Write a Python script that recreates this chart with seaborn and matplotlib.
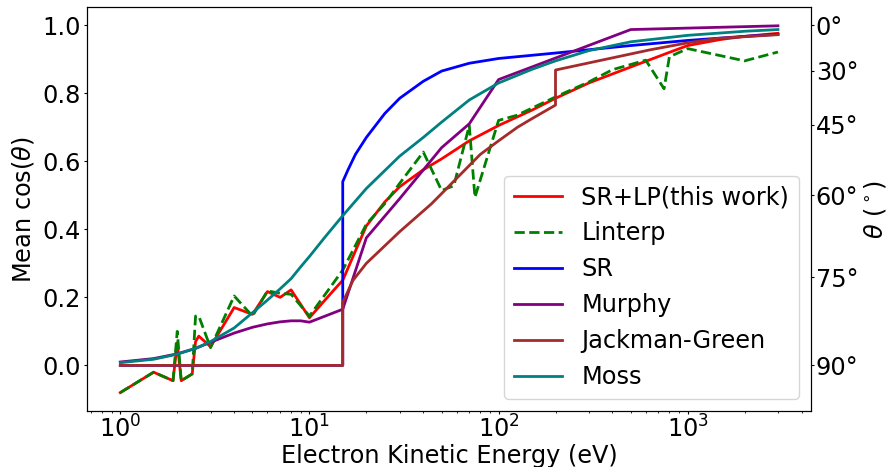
import matplotlib
matplotlib.use("Agg")
import matplotlib.pyplot as plt
import numpy as np
import seaborn as sns

# ── data ────────────────────────────────────────────────────
energy_srlp = [1, 1.5, 1.9, 2.0, 2.1, 2.4, 2.5, 2.6, 3, 4, 5, 6, 7, 8, 10, 12, 14, 15,
               17, 20, 25, 30, 40, 50, 70, 100, 150, 200, 300, 500, 800, 1000, 1500,
               2000, 3000]
cos_srlp = [-0.08, -0.02, -0.045, 0.067, -0.045, -0.025, 0.07, 0.086, 0.055, 0.17, 0.15,
            0.217, 0.2, 0.222, 0.14, 0.19, 0.232, 0.25, 0.32, 0.41, 0.48, 0.525, 0.575,
            0.607, 0.66, 0.705, 0.75, 0.785, 0.83, 0.877, 0.92, 0.94, 0.958, 0.967, 0.976]

energy_linterp = [1, 1.5, 1.9, 2.0, 2.1, 2.4, 2.5, 2.6, 3, 4, 5, 6, 7, 8, 10, 15, 20, 25,
                  30, 40, 50, 58, 70, 75, 100, 125, 200, 300, 400, 600, 750, 800, 1000,
                  2000, 3000]
cos_linterp = [-0.08, -0.02, -0.045, 0.10, -0.045, -0.025, 0.145, 0.145, 0.052, 0.204,
               0.145, 0.219, 0.212, 0.209, 0.145, 0.28, 0.415, 0.475, 0.535, 0.627, 0.514,
               0.528, 0.705, 0.494, 0.72, 0.735, 0.789, 0.833, 0.869, 0.897, 0.813, 0.907,
               0.931, 0.895, 0.921]

energy_sr = [1, 15, 15, 16, 17.5, 20, 25, 30, 40, 50, 70, 100, 200, 500, 1000, 2000, 3000]
cos_sr = [0, 0, 0.54, 0.575, 0.62, 0.67, 0.74, 0.785, 0.835, 0.865, 0.888, 0.902, 0.918,
          0.94, 0.955, 0.967, 0.973]

energy_murphy = [1, 1.5, 2, 2.5, 3, 4, 5, 6, 7, 8, 9, 10, 15, 20, 30, 50, 70, 100, 500, 3000]
cos_murphy = [0.01, 0.02, 0.034, 0.05, 0.068, 0.095, 0.112, 0.122, 0.128, 0.131, 0.131,
              0.127, 0.165, 0.375, 0.49, 0.64, 0.71, 0.84, 0.987, 0.998]

energy_jg = [1, 15, 15, 17, 20, 30, 44, 50, 80, 100, 126, 150, 200, 200, 300, 640, 1000,
             1440, 2000, 3000]
cos_jg = [0, 0, 0.185, 0.25, 0.30, 0.393, 0.474, 0.505, 0.62, 0.66, 0.70, 0.725, 0.765,
          0.868, 0.889, 0.928, 0.948, 0.961, 0.966, 0.972]

energy_moss = [1, 1.5, 2, 2.5, 3, 4, 5, 6, 7, 8, 9, 10, 12, 15, 20, 30, 40, 50, 70, 100,
               150, 200, 300, 500, 1000, 2000, 3000]
cos_moss = [0.008, 0.018, 0.033, 0.05, 0.07, 0.11, 0.155, 0.192, 0.225, 0.255, 0.29, 0.32,
            0.375, 0.44, 0.52, 0.615, 0.67, 0.715, 0.78, 0.83, 0.87, 0.895, 0.925, 0.951,
            0.97, 0.982, 0.987]

theta_ticks_deg = [0, 30, 45, 60, 75, 90]

series = [
    (energy_srlp, cos_srlp, "SR+LP(this work)", "red", "-"),
    (energy_linterp, cos_linterp, "Linterp", "green", "--"),
    (energy_sr, cos_sr, "SR", "blue", "-"),
    (energy_murphy, cos_murphy, "Murphy", "purple", "-"),
    (energy_jg, cos_jg, "Jackman-Green", "brown", "-"),
    (energy_moss, cos_moss, "Moss", "teal", "-"),
]

FS = 17.3
plt.rcParams["font.size"] = FS

fig, ax = plt.subplots(figsize=(8.92, 4.67), dpi=100)
fig.subplots_adjust(left=0.098, right=0.909, top=0.984, bottom=0.12)

for x, y, label, color, ls in series:
    sns.lineplot(x=x, y=y, ax=ax, color=color, linestyle=ls, linewidth=2,
                 label=label, estimator=None, sort=False)

ax.set_xscale("log")
ax.set_xlabel("Electron Kinetic Energy (eV)", fontsize=FS, labelpad=1)
ax.set_ylabel(r"Mean cos($\theta$)", fontsize=FS)
ax.tick_params(axis="both", which="major", labelsize=FS, length=2.5)
ax.tick_params(axis="both", which="minor", length=1.5)
ax.tick_params(axis="x", pad=1)
ax.tick_params(axis="y", pad=2.5)
ax.legend(loc="lower right", fontsize=FS)

# right axis: angle equivalents of the cosine values
ax2 = ax.twinx()
ax2.set_ylim(ax.get_ylim())
ax2.set_yticks(np.cos(np.radians(theta_ticks_deg)))
ax2.set_yticklabels([f"{d}°" for d in theta_ticks_deg], fontsize=FS)
ax2.tick_params(axis="y", length=2.5, pad=1)
ax2.set_ylabel(r"$\theta$ ($^\circ$)", fontsize=FS, labelpad=3)

fig.savefig("out.png", dpi=100)
